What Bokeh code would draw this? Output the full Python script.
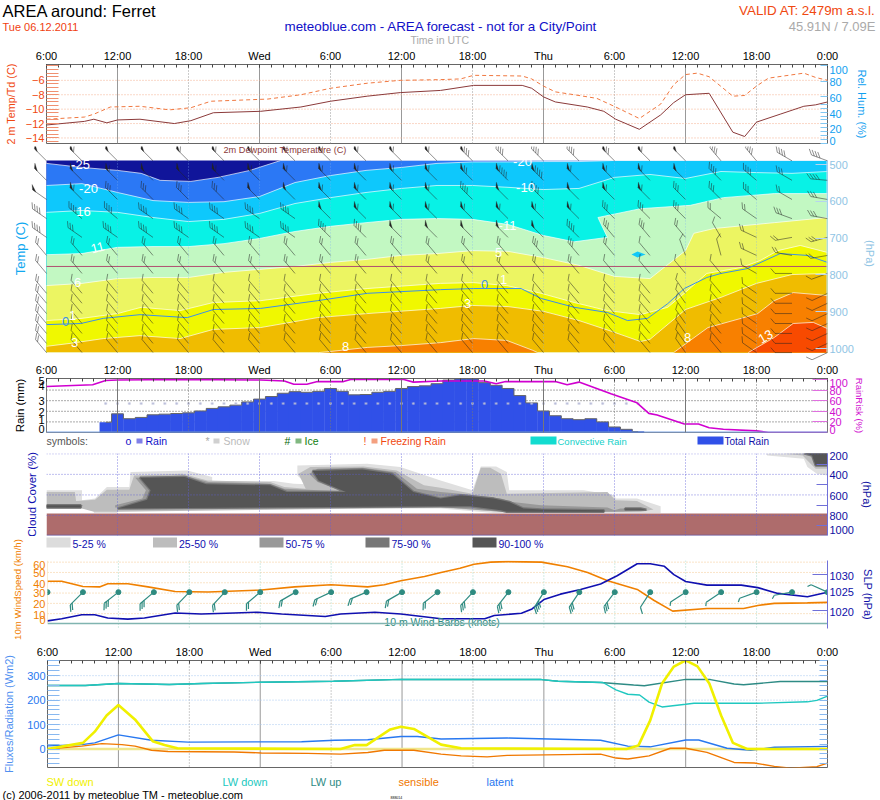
import math
from bokeh.plotting import figure
from bokeh.layouts import column, row
from bokeh.models import Range1d, LinearAxis, FixedTicker, Span
from bokeh.core.properties import value
from bokeh.embed import file_html
from bokeh.resources import INLINE

FONT = "Liberation Sans"
TIME_TICKS = [0, 6, 12, 18, 24, 30, 36, 42, 48, 54, 60, 66]
TIME_LABELS = ["6:00", "12:00", "18:00", "Wed", "6:00", "12:00", "18:00", "Thu", "6:00", "12:00", "18:00", "0:00"]
HOURLY = list(range(0, 67))
SOLID_H = [6, 18, 30, 42, 54]
DOTTED_H = [12, 24, 36, 48, 60]

# ---- meteogram panel 1
T_H = [0, 3.2, 4, 5.1, 6, 7.9, 10.8, 12.2, 14.1, 18.1, 21.5, 24, 27.1, 29.9, 33.3, 36.1, 40.2, 41, 42, 43, 45.7, 47.1, 48.1, 50.1, 51.9, 53, 54, 56, 58, 59, 60, 62, 64, 65, 66]
TD_V = [-12.2, -11.7, -11.4, -11.9, -11.5, -11.4, -12, -11.6, -10.5, -10.3, -9.7, -8.9, -8.2, -7.7, -7.4, -6.7, -6.7, -7.1, -8.3, -9, -9.7, -10.3, -11.4, -12.8, -10.8, -9.1, -8, -7.8, -13.2, -13.8, -11.8, -10.7, -9.6, -9.4, -9]
TT_H = [0, 3.2, 4, 5.4, 7.9, 10.4, 12.2, 13.9, 18.7, 21.5, 24, 27.1, 29.9, 33.3, 35, 36.1, 40.2, 41, 42, 43, 44.6, 46.5, 48.1, 50.1, 51.9, 53, 54, 55, 56, 58, 59, 60, 61, 64, 65, 66]
TT_V = [-11.4, -11.1, -10.7, -9.7, -9.6, -10.1, -9.8, -8.9, -8.6, -8, -7.1, -6.4, -6, -5.9, -5.8, -5.3, -5.4, -5.8, -6.8, -7.6, -8, -8.5, -9.7, -11.3, -9.3, -6.6, -5.2, -5, -5.5, -8.2, -8.1, -6.8, -5.7, -5, -5.6, -6]
RH_H = [0, 4, 5, 7.1, 12.2, 18.1, 33.3, 42, 44.6, 48, 50.8, 54, 56.1, 58.9, 60, 61.5, 65.1, 66]
RH_V = [93, 93, 85, 86, 86, 86.4, 87.7, 89.4, 87.7, 86, 89.4, 80, 81.7, 62, 65.5, 64.7, 70.6, 80]
RH_LABEL_POS = [94.9, 78.7, 58.7, 38.3, 18.3, 3.4]
RH_LABELS = ["100", "80", "60", "40", "20", "0"]
RH_TICKS = [0, 5, 10, 15, 20, 25, 30, 35, 40, 45, 50, 60, 80, 100]
TEMP_TICKS = [-6, -8, -10, -12, -14]
TEMP_MINOR = [-14.5, -14, -13.5, -13, -12.5, -12, -11.5, -11, -10.5, -10, -9.5, -9, -8.5, -8, -7.5, -7, -6.5, -6, -5.5, -5, -4.5, -4]

# ---- cross-section: isotherm boundaries (hour, hPa)
BAND_COLORS = ["#2B78F5", "#0EC8FC", "#08F2E6", "#C2F8C2", "#ECF562", "#F0F800", "#F0BC00", "#F88000", "#F84A00"]
A_H = [0, 3, 6, 8, 9.6, 12.2, 14.5, 17.2, 19.8, 66]
A_P = [497, 508, 516, 524, 543, 546, 535, 516, 489, 489]
B_H = [0, 3, 6, 9, 12, 15, 18, 21, 24, 27, 30, 33, 36, 39, 42, 45, 48, 66]
B_P = [557, 552, 576, 598, 603, 601, 587, 549, 530, 516, 508, 497, 493, 493, 492, 492, 489, 489]
C_H = [0, 3, 6, 9, 12, 15, 18, 21, 24, 27, 30, 33, 36, 39, 42, 45, 48, 51, 54, 57, 60, 63, 66]
C_P = [630, 625, 630, 644, 655, 649, 633, 606, 590, 576, 565, 557, 557, 562, 568, 565, 535, 527, 538, 519, 522, 524, 519]
D_H = [0, 3, 6, 9, 12, 15, 18, 21, 24, 27, 30, 33, 36, 39, 42, 44.6, 47.4, 46.6, 50.2, 54.4, 57.2, 61.5, 66]
D_P = [745, 742, 725, 723, 723, 715, 701, 682, 668, 658, 649, 647, 649, 663, 693, 710, 698, 644, 620, 611, 590, 579, 579]
E_H = [0, 3, 6, 9, 12, 15, 18, 21, 24, 27, 30, 33, 36, 39, 42, 45, 48, 51, 54, 54.7, 56.4, 61.5, 66]
E_P = [829, 823, 810, 807, 807, 793, 785, 777, 766, 758, 747, 742, 734, 736, 753, 774, 804, 810, 734, 687, 674, 658, 644]
F_H = [0, 3, 6, 8, 11.3, 14.1, 18.1, 22.9, 27.1, 33.3, 36.1, 38.9, 41.8, 44.6, 47.4, 50.2, 52.5, 53.9, 55.8, 58.7, 60.3, 61.8, 63.7, 65.4, 66]
F_P = [924, 918, 905, 888, 897, 875, 870, 850, 837, 823, 821, 829, 850, 875, 897, 908, 888, 850, 796, 780, 761, 734, 720, 734, 739]
G_H = [0, 2, 4.8, 7.9, 11.3, 14.1, 18.1, 22.9, 27.1, 33.3, 36, 39, 42, 45, 48, 50.2, 51, 54, 57, 60, 63, 66]
G_P = [994, 986, 973, 965, 973, 948, 943, 916, 905, 891, 883, 886, 899, 924, 956, 981, 975, 894, 861, 823, 799, 796]
H_H = [0, 23, 24, 27.1, 30, 33.3, 36.1, 38.9, 41.1, 41.5, 53, 54.4, 55.9, 58.7, 60.1, 61.5, 63.1, 66]
H_P = [1011, 1011, 1008, 997, 992, 984, 973, 978, 1005, 1011, 1011, 978, 943, 918, 905, 870, 848, 856]
I_H = [59.3, 61.5, 63.1, 64.8, 66]
I_P = [1011, 970, 932, 929, 946]
ZERO_H = [0, 2.9, 4.8, 7.9, 11.9, 14.1, 18.1, 22.9, 27.1, 33.3, 36.1, 40.1, 41.8, 44.6, 47.4, 49.1, 50.8, 52.5, 53.9, 55.8, 57, 59.2, 62, 64.3, 66]
ZERO_P = [935, 932, 918, 908, 916, 894, 891, 870, 850, 840, 837, 837, 864, 888, 902, 924, 918, 878, 837, 807, 796, 783, 742, 747, 766]
BOUNDARIES = [(A_H, A_P), (B_H, B_P), (C_H, C_P), (D_H, D_P), (E_H, E_P), (F_H, F_P), (G_H, G_P), (H_H, H_P), (I_H, I_P)]
PRESSURE_TICKS = [500, 600, 700, 800, 900, 1000]

# ---- upper-air wind barbs
BARB_H = [0, 3, 6, 9, 12, 15, 18, 21, 24, 27, 30, 33, 36, 39, 42, 45, 48, 51, 54, 57, 60, 63, 66]
BARB_LEVELS = [490, 543, 595, 647, 698, 747, 796, 850, 877, 905, 932, 959, 986, 1011]
BARB_SPEED = [
    [50, 60, 50, 50, 60, 60, 60, 60, 60, 60, 60, 60, 80, 40, 40, 40, 70, 60, 50, 40, 40, 40, 40],
    [50, 50, 60, 50, 50, 60, 60, 60, 60, 60, 60, 60, 70, 90, 90, 60, 60, 60, 50, 40, 40, 30, 40],
    [50, 60, 30, 30, 30, 30, 50, 50, 60, 60, 60, 60, 40, 50, 40, 50, 60, 60, 30, 30, 30, 20, 30],
    [40, 40, 40, 40, 40, 40, 40, 40, 50, 60, 60, 60, 60, 60, 60, 60, 30, 30, 30, 20, 20, 30, 30],
    [40, 30, 40, 40, 40, 40, 40, 40, 40, 40, 50, 50, 50, 50, 50, 40, 30, 30, 20, 10, 20, 20, 30],
    [20, 20, 20, 20, 20, 20, 20, 20, 20, 20, 20, 20, 20, 20, 30, 30, 20, 10, 10, 10, 20, 20, 20],
    [20, 20, 20, 20, 20, 20, 20, 20, 20, 20, 20, 20, 20, 20, 20, 20, 10, 10, 10, 10, 10, 10, 10],
    [20, 10, 10, 10, 10, 10, 10, 10, 10, 10, 10, 10, 10, 10, 10, 10, 10, 10, 10, 10, 10, 10, 10],
    [20, 10, 10, 10, 10, 10, 10, 10, 10, 10, 10, 10, 10, 10, 10, 10, 10, 10, 10, 10, 10, 10, 10],
    [20, 10, 10, 10, 10, 10, 10, 10, 10, 10, 10, 10, 10, 10, 10, 10, 10, 10, 10, 10, 10, 10, 10],
    [20, 10, 10, 10, 10, 10, 10, 10, 10, 10, 10, 10, 10, 10, 10, 10, 10, 10, 10, 10, 10, 10, 10],
    [20, 10, 10, 10, 10, 10, 10, 10, 10, 10, 10, 10, 10, 10, 10, 10, 10, 10, 10, 10, 10, 10, 10],
    [20, 10, 10, 10, 10, 10, 10, 10, 10, 10, 10, 10, 10, 10, 10, 10, 10, 10, 10, 10, 10, 10, 10],
    [20, 10, 10, 10, 10, 10, 10, 10, 10, 10, 10, 10, 10, 10, 10, 10, 10, 10, 10, 10, 10, 10, 10],
]
BARB_ANGLE = [
    [135, 135, 135, 135, 135, 135, 135, 135, 135, 135, 135, 135, 135, 135, 135, 135, 135, 135, 135, 130, 130, 150, 160],
    [135, 135, 135, 135, 135, 135, 135, 135, 135, 135, 135, 135, 135, 135, 135, 135, 135, 135, 135, 135, 140, 150, 175],
    [145, 135, 135, 135, 135, 135, 135, 135, 135, 135, 135, 135, 135, 135, 135, 135, 135, 135, 135, 135, 140, 150, 170],
    [145, 140, 140, 145, 145, 145, 145, 145, 135, 135, 135, 135, 135, 135, 135, 135, 135, 135, 135, 140, 145, 160, 170],
    [145, 145, 145, 145, 145, 145, 145, 145, 135, 135, 135, 135, 135, 135, 135, 135, 130, 130, 130, 120, 155, 190, 195],
    [130, 130, 130, 130, 130, 130, 130, 130, 130, 130, 130, 130, 130, 130, 130, 130, 130, 130, 110, 105, 155, 170, 190],
    [130, 130, 130, 130, 130, 130, 130, 130, 130, 130, 130, 130, 130, 130, 130, 130, 130, 130, 130, 130, 150, 180, 200],
    [130, 130, 130, 130, 130, 130, 130, 130, 130, 130, 130, 130, 130, 130, 130, 130, 130, 130, 125, 130, 145, 180, 205],
    [130, 130, 130, 130, 130, 130, 130, 130, 130, 130, 130, 130, 130, 130, 130, 130, 130, 130, 125, 130, 145, 180, 205],
    [130, 130, 130, 130, 130, 130, 130, 130, 130, 130, 130, 130, 130, 130, 130, 130, 130, 130, 125, 130, 145, 180, 205],
    [130, 130, 130, 130, 130, 130, 130, 130, 130, 130, 130, 130, 130, 130, 130, 130, 130, 130, 125, 130, 145, 180, 205],
    [130, 130, 130, 130, 130, 130, 130, 130, 130, 130, 130, 130, 130, 130, 130, 130, 130, 130, 125, 130, 145, 180, 205],
    [130, 130, 130, 130, 130, 130, 130, 130, 130, 130, 130, 130, 130, 130, 130, 130, 130, 130, 125, 130, 145, 180, 205],
    [130, 130, 130, 130, 130, 130, 130, 130, 130, 130, 130, 130, 130, 130, 130, 130, 130, 130, 125, 130, 145, 180, 205],
]

# ---- rain
RAIN_H = list(range(5, 51))
RAIN_MM = [.97, 1.76, 1.3, 1.42, 1.67, 1.73, 1.79, 1.85, 2.03, 2.27, 2.42, 2.58, 2.88, 3.15, 3.39, 3.7, 3.85, 3.79, 3.88, 4.15, 3.88, 3.55, 3.58, 3.79, 3.88, 4.15, 4.33, 4.4, 4.6, 4.94, 5.06, 5.06, 4.7, 4.45, 4.15, 3.48, 2.79, 2.03, 1.58, 1.3, 1.21, 1.3, 1, .52, .3, .09]
SNOW_LEVEL = [2.73] * 46
RISK_H = [0, 3.9, 5, 6, 11.3, 18.1, 20.1, 20.9, 22, 22.9, 25.1, 25.7, 30.2, 31, 33.3, 37, 38, 38.8, 43, 44, 45, 47.7, 49.9, 50.9, 51.6, 53.9, 55.1, 56, 57.2, 60, 61, 66]
RISK_V = [86.7, 90, 98, 99, 100, 99, 97, 91, 91, 96, 96, 100, 100, 95, 97, 97, 92, 96, 96, 90, 95, 73, 56, 36, 33, 16, 16, 9, 6, 3, 0, 0]
RAIN_LABEL_POS = [0.34, 1.22, 1.97, 2.97, 4.42, 4.88]
RAIN_LABELS = ["0", "1", "2", "3", "4", "5"]
RISK_LABEL_POS = [94, 78.9, 59.5, 39.5, 19.5, 4.9]
RISK_LABELS = ["100", "80", "60", "40", "20", "0"]

# ---- cloud cover outlines (hour, hPa)
TERRAIN_TOP = 780
CLOUD_LIGHT_H = [[0, 3, 3, 4.1, 5.1, 7, 7.1, 11.9, 14, 14, 19.2, 20.9, 22, 21.2, 21.2, 27.1, 29.9, 33.3, 36, 36.7, 38, 38.9, 39.1, 45.4, 48, 48.1, 49.9, 51.9, 51.9, 37.8, 33.3, 6, 6, 4, 4, 0],
                 [60.8, 61.8, 66, 66, 65.1, 64.3, 64, 60.9]]
CLOUD_LIGHT_P = [[555, 555, 652, 636, 523, 523, 378, 362, 426, 465, 465, 491, 497, 410, 313, 297, 329, 459, 555, 323, 323, 378, 555, 555, 604, 636, 636, 710, 775, 775, 733, 743, 775, 775, 733, 733],
                 [200, 180, 180, 410, 394, 329, 249, 216]]
CLOUD_MID_H = [[0, 2.4, 2.5, 4.1, 5.1, 7, 7.4, 11.5, 13.6, 18.9, 20.1, 21.9, 21.3, 22.3, 26.8, 29.6, 31.9, 33.3, 36, 36.7, 37.5, 38.4, 38.9, 47.4, 48.1, 49.9, 51.3, 50.2, 48.2, 38.4, 33.3, 6, 4, 3, 0],
               [62.3, 66, 66, 65, 64.3, 63.9]]
CLOUD_MID_P = [[571, 571, 659, 646, 549, 549, 410, 394, 459, 475, 523, 539, 394, 329, 323, 362, 507, 530, 588, 336, 336, 394, 588, 572, 652, 659, 743, 765, 765, 765, 723, 765, 765, 733, 733],
               [200, 174, 345, 345, 265, 216]]
CLOUD_GREY_H = [[7.5, 11.6, 13.7, 18.9, 20.1, 25, 22.9, 22.2, 22.9, 26.7, 29.5, 31.3, 33.3, 35, 38.4, 39.4, 41.8, 47.4, 48, 48.5, 50.2, 50.8, 47.9, 38.4, 33.3, 7.1, 5.8, 5.8, 8.1, 8.4]]
CLOUD_GREY_P = [[433, 410, 475, 491, 539, 565, 475, 394, 345, 336, 378, 539, 572, 588, 636, 668, 701, 723, 749, 733, 733, 756, 765, 765, 717, 723, 723, 701, 636, 555]]
CLOUD_DARK_H = [[7.9, 11.7, 13.5, 18.9, 20.3, 25.3, 23, 22.5, 26.7, 29.2, 31, 33.3, 35, 37.8, 39.1, 40.3, 41.8, 47.1, 47.1, 38.9, 38.4, 35.8, 33.3, 6, 8.5, 8.8],
                [0, 2.9, 2.9, 0], [48.9, 50.2, 50.7, 48.9], [64, 66, 66, 65, 64.7]]
CLOUD_DARK_P = [[433, 426, 497, 507, 572, 572, 459, 368, 352, 394, 572, 636, 604, 636, 668, 733, 743, 749, 765, 765, 749, 710, 710, 733, 646, 555],
                [701, 701, 723, 723], [733, 733, 745, 745], [194, 194, 313, 313, 216]]
CLOUD_LEGEND = ["5-25 %", "25-50 %", "50-75 %", "75-90 %", "90-100 %"]
CLOUD_LEGEND_COLORS = ["#DCDCDC", "#BDBDBD", "#999999", "#777777", "#555555"]
CLOUD_LABEL_POS = [216, 410, 614, 808, 944]
CLOUD_LABELS = ["200", "400", "600", "800", "1000"]

# ---- surface wind & pressure
WIND_H = [0, 1.2, 3, 4.4, 5.1, 6.8, 8.5, 10.8, 13.6, 18.1, 20.9, 24, 27.1, 28.5, 29.9, 31.9, 33.3, 34.9, 36.1, 37.5, 38.9, 41.8, 44, 45.7, 47.4, 49.9, 51.3, 52.9, 55.8, 58.9, 60.1, 61.5, 64.3, 66]
WIND_V = [41.5, 41.5, 36.4, 36, 39, 39, 36, 31.5, 31, 33, 36, 38, 36, 38, 42, 46, 50, 54, 58, 60, 60.5, 60, 55.5, 50, 42, 33.5, 23, 12.5, 15, 15, 18, 20, 20.5, 21]
SLP_H = [0, 1.2, 2.9, 4, 5.1, 6.8, 8.2, 10.8, 13, 15.8, 17.8, 19.8, 23.5, 24.8, 27.7, 29.9, 33.3, 37, 37.8, 40.1, 41, 42, 43.4, 45.1, 46.8, 48.2, 49.9, 51, 52.2, 53, 54, 55.8, 58.7, 60.1, 61.8, 64.3, 66]
SLP_V = [1017.1, 1017.7, 1018.8, 1018.8, 1017.9, 1017.6, 1017.9, 1019.3, 1019, 1019.3, 1019.5, 1019, 1018.3, 1019, 1019.5, 1019, 1017.7, 1017.7, 1018.6, 1019.2, 1020.4, 1023, 1024.5, 1025.8, 1027.3, 1029.6, 1032.9, 1032.9, 1032.2, 1029.9, 1028, 1027, 1027, 1026.3, 1024.7, 1023.8, 1025]
WIND_LEVEL = [30.9] * 23
WIND_BARB_SPEED = [20, 20, 30, 30, 20, 20, 20, 20, 20, 20, 20, 20, 30, 30, 40, 30, 30, 10, 5, 5, 5, 5, 5]
WIND_BARB_ANGLE = [140, 135, 142, 140, 134, 133, 140, 150, 155, 157, 150, 142, 133, 128, 122, 124, 127, 123, 147, 146, 160, 170, 204]
SPEED_LABEL_POS = [3.4, 9, 19.6, 30, 39, 49.3, 57.7]
SPEED_LABELS = ["0", "10", "20", "30", "40", "50", "60"]
SPEED_GRID = [10, 20, 30, 40, 50, 60]
SLP_LABEL_POS = [1029.5, 1025, 1019.5]
SLP_LABELS = ["1030", "1025", "1020"]

# ---- fluxes
SW_H = [0, 3, 4, 5, 6, 7.4, 8.9, 9.9, 11, 24.8, 26, 27, 29, 29.9, 31, 33.3, 35, 49, 50, 51, 52, 53, 54, 55, 56, 57, 58, 59.2, 66]
SW_V = [0, 25, 71, 137, 180, 121, 32, 16, 3, 0, 16, 16, 80, 91, 82, 18, 3, 0, 14, 117, 268, 337, 363, 338, 268, 137, 25, 0, 0]
LWU_H = [0, 3.2, 6, 10.3, 13.1, 18.1, 24.2, 29.9, 33.3, 41.8, 43.2, 46.8, 49.6, 50.5, 54, 56.1, 58.1, 58.9, 62, 66]
LWU_V = [260, 260, 268, 264, 268, 273, 277, 285, 284, 284, 277, 272, 262, 259, 285, 284, 266, 263, 276, 276]
LWD_H = [0, 3.2, 6, 10.3, 13.1, 18.1, 24.2, 29.9, 33.3, 41.8, 43.2, 47, 48.1, 49.1, 50.1, 50.9, 52, 54, 54.7, 60, 64.3, 65.1, 66]
LWD_V = [260, 260, 268, 264, 268, 273, 277, 285, 284, 284, 277, 272, 242, 224, 221, 192, 172, 183, 187, 187, 193, 199, 216]
SENS_H = [0, 2.9, 4.6, 6.3, 7.4, 8.8, 10.2, 15.8, 18.1, 22, 24.8, 27.1, 28.5, 31, 33.3, 35, 37.2, 38.9, 46.8, 48.1, 49.1, 50.9, 52.7, 54, 55.8, 58.1, 59.8, 61.5, 62.9, 65.1, 66]
SENS_V = [0, 12, 22, 18, 12, -5, -10, -12, -16, -18, -21, -14, -5, -5, -21, -28, -32, -26, -21, -37, -41, -28, 3, 3, -14, -55, -57, -71, -78, -72, -58]
LAT_H = [0, 2.9, 4, 6, 8.8, 11.9, 21.5, 24.3, 27.1, 29.9, 31.3, 33.3, 38.9, 46.8, 49.1, 51, 54, 55.1, 57.5, 59.5, 61.5, 66]
LAT_V = [13, 18, 25, 58, 36, 28, 30, 36, 38, 51, 51, 41, 45, 36, 12, 9, 37, 37, 3, -5, 7, 11]
FLUX_TICKS = [0, 100, 200, 300]
FLUX_MINOR = [-60, -40, -20, 0, 20, 40, 60, 80, 100, 120, 140, 160, 180, 200, 220, 240, 260, 280, 300, 320, 340, 360]


def base(w, h, left, right, top, bottom, xr, yr):
    p = figure(width=w, height=h, x_range=Range1d(*xr), y_range=Range1d(*yr),
               x_axis_type=None, y_axis_type=None, output_backend="svg", toolbar_location=None,
               min_border_left=left, min_border_right=right, min_border_top=top, min_border_bottom=bottom,
               frame_align=False)
    p.outline_line_color = None
    p.background_fill_color = "white"
    p.border_fill_color = "white"
    return p


def strip(w, h, x0, y_top):
    return base(w, h, 0, 0, 0, 0, (x0, x0 + w), (y_top + h, y_top))


def put(p, x, y, s, size, color, align="left", angle=0):
    p.text(x=[x], y=[y], text=[s], text_font=value(FONT), text_font_size=f"{size}px", text_color=color,
           text_align=align, text_baseline="middle", angle=angle, angle_units="deg")


def axis(p, loc, ticks, minor=None, labels=None, rng=None, color="#000000", tick="#000000", tin=0, mtin=0,
         size=11, title=None, title_color=None, title_size=11, standoff=6, line=None, lab_off=2):
    kw = {}
    if rng:
        kw["y_range_name"] = rng
    a = LinearAxis(ticker=FixedTicker(ticks=ticks, minor_ticks=minor or []), **kw)
    a.major_tick_in = tin
    a.major_tick_out = 0
    a.minor_tick_in = mtin
    a.minor_tick_out = 0
    a.major_tick_line_color = tick if tin else None
    a.minor_tick_line_color = tick if mtin else None
    a.major_label_text_color = color
    a.major_label_text_font = FONT
    a.major_label_text_font_size = f"{size}px"
    a.major_label_standoff = lab_off
    a.axis_line_color = line
    if labels is not None:
        a.major_label_overrides = dict(zip(ticks, labels))
    if title:
        a.axis_label = title
        a.axis_label_text_color = title_color or color
        a.axis_label_text_font = FONT
        a.axis_label_text_font_size = f"{title_size}px"
        a.axis_label_text_font_style = "normal"
        a.axis_label_standoff = standoff
    p.add_layout(a, loc)
    return a


def time_axis(p):
    axis(p, "above", TIME_TICKS, HOURLY, TIME_LABELS, tick="#444444", tin=3, mtin=3, lab_off=3, line="#666666")


def vlines(p, solid, dotted, color, level="underlay", dash="1 2"):
    for h in solid:
        p.add_layout(Span(location=h, dimension="height", line_color=color, line_width=1, level=level))
    for h in dotted:
        p.add_layout(Span(location=h, dimension="height", line_color=color, line_width=1, line_dash=dash, level=level))


def hlines(p, vals, color, rng=None, dash="1 2"):
    for v in vals:
        s = Span(location=v, dimension="width", line_color=color, line_width=1, line_dash=dash, level="underlay")
        if rng:
            s.y_range_name = rng
        p.add_layout(s)


def barbs(p, xs, ys, speeds, angles, px_per_x, y_per_px, length, flen, hlen, gap, color, lw, alpha=1.0):
    segx, segy, trix, triy = [], [], [], []
    for x0, y0, sp, ang in zip(xs, ys, speeds, angles):
        a = math.radians(ang)
        f = math.radians(ang - 50)
        ux, uy = math.cos(a), math.sin(a)
        vx, vy = math.cos(f), math.sin(f)
        def pt(d, out=0):
            return (x0 + (ux * d + vx * out) / px_per_x, y0 - (uy * d + vy * out) * y_per_px)
        a0, a1 = pt(0), pt(length)
        segx.append([a0[0], a1[0]]); segy.append([a0[1], a1[1]])
        rem = sp
        d = length
        while rem >= 50:
            t0, t1, t2 = pt(d), pt(d - 4), pt(d, flen * 0.8)
            trix.append([t0[0], t1[0], t2[0]]); triy.append([t0[1], t1[1], t2[1]])
            rem -= 50
            d -= 5
        while rem >= 10:
            b0, b1 = pt(d), pt(d, flen)
            segx.append([b0[0], b1[0]]); segy.append([b0[1], b1[1]])
            rem -= 10
            d -= gap
        if rem >= 5:
            b0, b1 = pt(d), pt(d, hlen)
            segx.append([b0[0], b1[0]]); segy.append([b0[1], b1[1]])
    p.multi_line(segx, segy, line_color=color, line_width=lw, line_alpha=alpha)
    if trix:
        p.patches(trix, triy, fill_color=color, line_color=color, line_width=0.3)


PX_H = 781 / 66

# ---------------- header strip
head = strip(880, 46, 0, 0)
put(head, 2, 10, "AREA around: Ferret", 16.5, "#000000")
put(head, 2, 26, "Tue 06.12.2011", 11, "#F04010")
put(head, 284, 25.5, "meteoblue.com - AREA forecast - not for a City/Point", 13.4, "#1010C8")
put(head, 410, 39, "Time in UTC", 10.5, "#AAAAAA")
put(head, 875, 10, "VALID AT: 2479m a.s.l.", 13.4, "#F04810", "right")
put(head, 875, 26, "45.91N / 7.09E", 13, "#AAAAAA", "right")

# ---------------- temperature / humidity
f1 = base(880, 100, 46, 53, 17, 3, (0, 66), (-14.77, -3.8))
f1.extra_y_ranges = {"rh": Range1d(-0.43, 101.7)}
f1.outline_line_color = "#666666"
time_axis(f1)
axis(f1, "left", TEMP_TICKS, TEMP_MINOR, color="#F04810", tick="#F09070", tin=12, mtin=12,
     title="2 m Temp/Td (C)", title_size=10.8, standoff=6)
axis(f1, "right", RH_LABEL_POS, RH_TICKS, RH_LABELS, rng="rh", color="#10A0F0", tick="#80C8F4", mtin=7,
     title="Rel. Hum. (%)", title_size=11, standoff=5)
vlines(f1, SOLID_H, DOTTED_H, "#999999")
hlines(f1, TEMP_TICKS, "#F4B090")
f1.line(TT_H, TT_V, line_color="#F07840", line_width=1, line_dash="4 3")
f1.line(T_H, TD_V, line_color="#8B3A3A", line_width=1)
f1.line(RH_H, RH_V, line_color="#0A9CF0", line_width=2)

# ---------------- cross-section
x_left = -46 / PX_H
HPA_PX = 2.717
f2 = base(880, 214, 0, 53, 0, 0, (x_left, 66), (2.717 * 360 + 54.4, 2.717 * 146 + 54.4))
axis(f2, "right", PRESSURE_TICKS, None, None, color="#8FC4E4", tick="#B5D5EE", tin=12,
     title="(hPa)", title_color="#8FC4E4", title_size=11, standoff=7)
f2.quad(left=[0], right=[66], top=[489], bottom=[1011], fill_color="#10159A", line_color=None)
for (bh, bp), col in zip(BOUNDARIES, BAND_COLORS):
    xs = list(bh) + [bh[-1], bh[0]]
    ys = list(bp) + [1011, 1011]
    f2.patch(xs, ys, fill_color=col, line_color=None)
for bh, bp in BOUNDARIES:
    f2.line(bh, bp, line_color="white", line_width=0.9, line_alpha=0.75)
for h in SOLID_H + DOTTED_H:
    f2.line([h, h], [489, 1011], line_color="#7FB0F0", line_width=0.8, line_dash="1 2", line_alpha=0.7)
f2.line([0, 66], [777, 777], line_color="#B05070", line_width=1)
f2.line(ZERO_H, ZERO_P, line_color="#3C90E8", line_width=1)
f2.line([66, 66], [489, 1011], line_color="#C8E0F4", line_width=2)


def hx(x):
    return (x - 46) / PX_H


def pv(y):
    return HPA_PX * y + 54.4


f2.patch([hx(631), hx(637), hx(645), hx(637)], [pv(254), pv(251), pv(254), pv(257)], fill_color="#10C8F8", line_color=None)
bx, by, bs, ba = [], [], [], []
for lev, sp_row, ang_row in zip(BARB_LEVELS, BARB_SPEED, BARB_ANGLE):
    bx += BARB_H
    by += [lev] * len(BARB_H)
    bs += sp_row
    ba += ang_row
barbs(f2, bx, by, bs, ba, PX_H, HPA_PX, 17, 6.5, 3.5, 3, "#222222", 0.6, 0.85)
for x, y, s, ang in [(80, 164, "-25", 0), (88, 188, "-20", 0), (83, 211, "16", 0), (97, 247, "11", 15), (77, 282, "6", 0),
                     (72, 315, "1", 0), (74, 342, "3", 0), (345, 346, "8", 0), (522, 161, "-20", 0), (525, 187, "-10", 0),
                     (507, 225, "-11", 0), (498, 252, "5", 0), (503, 279, "1", 0), (467, 303, "3", 0), (687, 337, "8", 0),
                     (765, 336, "13", 30)]:
    put(f2, hx(x), pv(y), s, 13, "#FFFFFF", "center", ang)
put(f2, hx(65), pv(321), "0", 13, "#3C90E8", "center")
put(f2, hx(484), pv(284), "0", 13, "#3C90E8", "center")
put(f2, hx(20), pv(248), "Temp (C)", 13, "#10A8F0", "center", 90)
put(f2, hx(223), pv(149), "2m Dewpoint Temperature (C)", 9.2, "#8B3A3A")

# ---------------- rain
f3 = base(880, 75, 46, 53, 16, 3, (0, 66), (0, 5.09))
f3.extra_y_ranges = {"risk": Range1d(0, 101.8)}
f3.outline_line_color = "#777777"
time_axis(f3)
axis(f3, "left", RAIN_LABEL_POS, None, RAIN_LABELS, title="Rain (mm)", title_size=11.5, standoff=9)
axis(f3, "right", RISK_LABEL_POS, [20, 40, 60, 80, 100], RISK_LABELS, rng="risk", color="#D010D0", tick="#E070E0", mtin=15,
     title="RainRisk (%)", title_size=9.5, standoff=3)
hlines(f3, [1, 2, 3, 4], "#555555")
f3.vbar(x=RAIN_H, top=RAIN_MM, width=1.03, bottom=0, fill_color="#3050E8", line_color=None)
f3.step(RAIN_H, RAIN_MM, mode="center", line_color="#666666", line_width=1)
f3.add_layout(Span(location=0, dimension="width", line_color="#7FA8E8", line_width=2, level="overlay"))
f3.line([4.5, 50.5], [0.03, 0.03], line_color="#102880", line_width=1)
vlines(f3, SOLID_H, DOTTED_H, "#777777", level="overlay")
f3.scatter(RAIN_H, SNOW_LEVEL, marker="asterisk", size=3, line_color="#B8BCD8", line_width=0.7)
f3.line(RISK_H, RISK_V, y_range_name="risk", line_color="#D000D0", line_width=1.6)

# ---------------- rain legend
s1 = strip(880, 16, 0, 435)
put(s1, 46, 440.5, "symbols:", 10.5, "#555555")
for tx, sym, symcol, qx, qcol, name, ncol, nx in [
    (125, "o", "#1010C8", 136, "#8080E8", "Rain", "#1010C8", 145),
    (205, "*", "#AAAAAA", 213, "#D0D0D0", "Snow", "#BBBBBB", 223),
    (284, "#", "#006400", 295, "#80B880", "Ice", "#108010", 304),
    (363, "!", "#F04810", 371, "#F4A080", "Freezing Rain", "#F04810", 380),
]:
    put(s1, tx, 440.5, sym, 10.5, symcol)
    s1.quad(left=[qx], right=[qx + 6], top=[438], bottom=[443], fill_color=qcol, line_color=None)
    put(s1, nx, 440.5, name, 10.5, ncol)
s1.quad(left=[530], right=[556], top=[436], bottom=[444], fill_color="#12DCD0", line_color=None)
put(s1, 557, 440.5, "Convective Rain", 9.5, "#12D0C8")
s1.quad(left=[697], right=[723], top=[436], bottom=[444], fill_color="#3050E8", line_color=None)
put(s1, 724, 440.5, "Total Rain", 10, "#1010A8")

# ---------------- cloud cover
f4 = base(880, 85, 46, 53, 2, 1, (0, 66), (995, 197))
axis(f4, "left", [], title="Cloud Cover (%)", title_color="#1010B0", title_size=11.5, standoff=9)
axis(f4, "right", CLOUD_LABEL_POS, [300, 500, 700, 900], CLOUD_LABELS, color="#1010A0", tick="#7070D8", mtin=11,
     title="(hPa)", title_color="#1010A0", title_size=11, standoff=4, line="#7070D8")
f4.quad(left=[0], right=[66], top=[TERRAIN_TOP], bottom=[995], fill_color="#AE6C6C", line_color=None)
f4.patches(CLOUD_LIGHT_H, CLOUD_LIGHT_P, fill_color="#E0E0E0", line_color=None)
f4.patches(CLOUD_MID_H, CLOUD_MID_P, fill_color="#BDBDBD", line_color=None)
f4.patches(CLOUD_GREY_H, CLOUD_GREY_P, fill_color="#999999", line_color=None)
f4.patches(CLOUD_DARK_H, CLOUD_DARK_P, fill_color="#555555", line_color="#777777", line_width=2.5)
f4.patches(CLOUD_DARK_H, CLOUD_DARK_P, fill_color="#555555", line_color=None)
for h in SOLID_H + DOTTED_H:
    f4.line([h, h], [197, 995], line_color="#6060D8", line_width=0.8, line_dash="1 2")
for lev in [200, 400, 600, 800]:
    f4.line([0, 66], [lev, lev], line_color="#6060D8", line_width=0.8, line_dash="1 2")
f4.line([0, 66], [993, 993], line_color="#5050B0", line_width=1)

# ---------------- wind label strip + legend strip + wind panel
left_strip = strip(30, 106, 0, 536)
put(left_strip, 17, 589, "10m WindSpeed (km/h)", 9.6, "#F08000", "center", 90)

s2 = strip(850, 16, 30, 536)
for lx, lab, col in zip([46, 152.5, 259, 365, 472], CLOUD_LEGEND, CLOUD_LEGEND_COLORS):
    s2.quad(left=[lx], right=[lx + 24], top=[537], bottom=[547], fill_color=col, line_color=None)
    put(s2, lx + 26, 543, lab, 10.5, "#1010B0")

f5 = base(850, 90, 16, 53, 8, 14, (0, 66), (-4.4, 61.6))
f5.extra_y_ranges = {"slp": Range1d(1015, 1033.8)}
axis(f5, "left", SPEED_LABEL_POS, None, SPEED_LABELS, color="#F08000")
axis(f5, "right", SLP_LABEL_POS, [1020, 1030], SLP_LABELS, rng="slp", color="#1010A8", tick="#7070D8", mtin=15,
     title="SLP (hPa)", title_color="#1010A8", title_size=11, standoff=5, line="#7070D8")
hlines(f5, SPEED_GRID, "#F4C890")
vlines(f5, [], SOLID_H + DOTTED_H, "#A8D8C8")
f5.add_layout(Span(location=0.5, dimension="width", line_color="#80B4B0", line_width=1.5, level="overlay"))
f5.line([0, 0], [0.5, 61.6], line_color="#F8D8A8", line_width=1)
f5.line(WIND_H, WIND_V, line_color="#F08000", line_width=1.6)
f5.line(SLP_H, SLP_V, y_range_name="slp", line_color="#1010B0", line_width=1.6)
barbs(f5, BARB_H, WIND_LEVEL, WIND_BARB_SPEED, WIND_BARB_ANGLE, PX_H, 1 / 1.03, 18, 7, 4, 2.6, "#2E8B80", 1.2)
f5.scatter(BARB_H, WIND_LEVEL, marker="circle", size=5, fill_color="#2E8B80", line_color="#2E8B80")
put(f5, 28.5, 2.2, "10 m Wind Barbs (knots)", 10.5, "#2E8B80")

wind_row = row(left_strip, column(s2, f5, spacing=0), spacing=0)

# ---------------- fluxes
f6 = base(880, 132, 46, 53, 14, 7, (0, 66), (-75.6, 362))
f6.outline_line_color = "#666666"
time_axis(f6)
axis(f6, "left", FLUX_TICKS, FLUX_MINOR, color="#2878F0", tick="#88B8F0", tin=12, mtin=12,
     title="Fluxes/Radiation (Wm2)", title_color="#5090F0", title_size=11, standoff=9)
axis(f6, "right", [], FLUX_MINOR, color="#2878F0", tick="#88B8F0", mtin=8)
vlines(f6, SOLID_H, DOTTED_H, "#999999")
hlines(f6, [100, 200, 300], "#A8C8F0")
f6.line([0, 66], [0, 0], line_color="#F0E68C", line_width=2.5)
f6.line(LWU_H, LWU_V, line_color="#2E8B85", line_width=1.4)
f6.line(LWD_H, LWD_V, line_color="#20C8C0", line_width=1.4)
f6.line(LAT_H, LAT_V, line_color="#2878F0", line_width=1.4)
f6.line(SENS_H, SENS_V, line_color="#F07800", line_width=1.4)
f6.line(SW_H, SW_V, line_color="#F0F000", line_width=2.6)

# ---------------- bottom strip
s3 = strip(880, 26, 0, 774)
for lx, lab, col in zip([46, 222, 310, 398, 486], ["SW down", "LW down", "LW up", "sensible", "latent"],
                        ["#F0F000", "#20C8C0", "#2E8B85", "#F07800", "#2878F0"]):
    put(s3, lx, 781, lab, 11, col)
put(s3, 2, 794.5, "(c) 2006-2011 by meteoblue TM - meteoblue.com", 11, "#000000")
put(s3, 390, 797, "888014", 3.5, "#000000")

root = column(head, f1, f2, f3, s1, f4, wind_row, f6, s3, spacing=0)
open("out.html", "w").write(file_html(root, INLINE))
